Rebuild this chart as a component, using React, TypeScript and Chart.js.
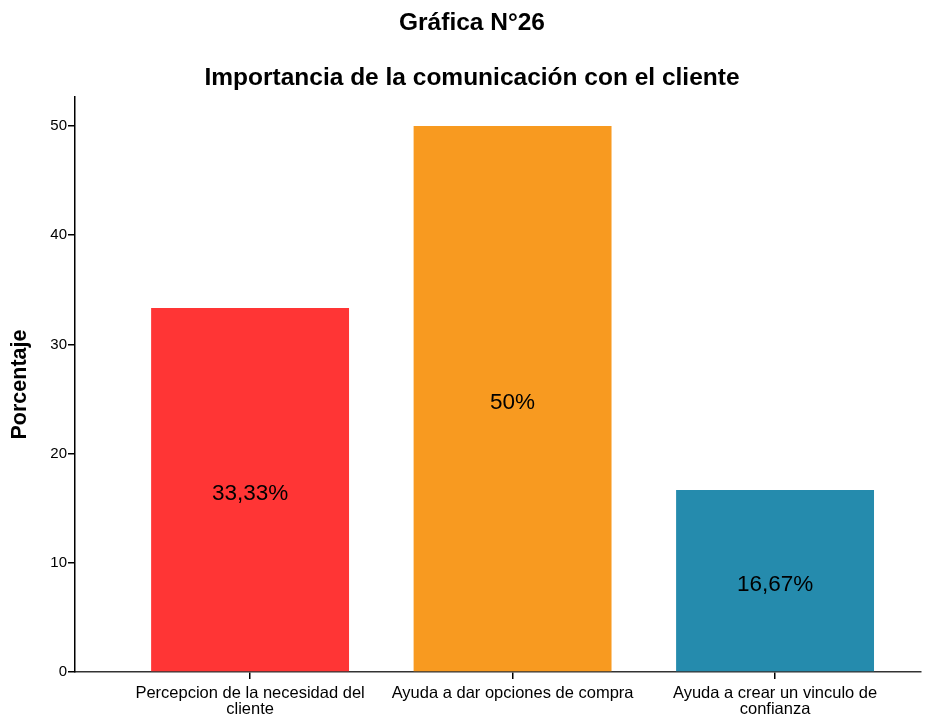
import React, { useEffect, useRef } from "react";
import { Chart, registerables } from "chart.js";

Chart.register(...registerables);

const titleText = "Gráfica N°26";
const subtitleText = "Importancia de la comunicación con el cliente";
const categories: string[][] = [
  ["Percepcion de la necesidad del", "cliente"],
  ["Ayuda a dar opciones de compra"],
  ["Ayuda a crear un vinculo de", "confianza"],
];
const percentages: number[] = [33.33, 50, 16.67];
const barLabels: string[] = ["33,33%", "50%", "16,67%"];
const barColors: string[] = ["#FF3535", "#F89A20", "#258BAD"];
const yTicks: number[] = [0, 10, 20, 30, 40, 50];

const FONT = "'Liberation Sans', Arial, Helvetica, sans-serif";

const barLabelPlugin = {
  id: "barLabels",
  afterDatasetsDraw(chart: any) {
    const meta = chart.getDatasetMeta(0);
    const ctx = chart.ctx;
    ctx.save();
    ctx.font = `22.5px ${FONT}`;
    ctx.fillStyle = "#000";
    ctx.textAlign = "center";
    ctx.textBaseline = "middle";
    meta.data.forEach((el: any, i: number) => {
      const mid = (el.y + el.base) / 2;
      ctx.fillText(barLabels[i], el.x, mid + 4);
    });
    ctx.restore();
  },
};

const titlesPlugin = {
  id: "titles",
  afterDraw(chart: any) {
    const ctx = chart.ctx;
    ctx.save();
    ctx.font = `bold 24.5px ${FONT}`;
    ctx.fillStyle = "#000";
    ctx.textAlign = "center";
    ctx.textBaseline = "middle";
    ctx.fillText(titleText, 472, 23);
    ctx.fillText(subtitleText, 472, 78);
    ctx.restore();
  },
};

export default function App() {
  const ref = useRef<HTMLCanvasElement | null>(null);
  useEffect(() => {
    if (!ref.current) return;
    const chart = new Chart(ref.current, {
      type: "bar",
      data: {
        datasets: [
          {
            data: percentages.map((v, i) => ({ x: i, y: v })),
            backgroundColor: barColors,
            borderWidth: 0,
            barPercentage: 0.754,
            categoryPercentage: 1,
          },
        ],
      },
      options: {
        animation: false,
        responsive: true,
        maintainAspectRatio: false,
        layout: { padding: { left: 0, right: 15, top: 97, bottom: 0 } },
        plugins: {
          legend: { display: false },
          tooltip: { enabled: false },
          title: { display: false },
        },
        scales: {
          x: {
            type: "linear",
            min: -0.667,
            max: 2.556,
            offset: false,
            afterBuildTicks: (scale: any) => {
              scale.ticks = categories.map((_, i) => ({ value: i }));
            },
            afterFit: (scale: any) => {
              scale.height = 45;
            },
            ticks: {
              color: "#000",
              font: { family: FONT, size: 16.5, lineHeight: 0.97 },
              padding: 6,
              maxRotation: 0,
              autoSkip: false,
              callback: (v: any) => {
                const idx = Math.round(Number(v));
                return categories[idx] ?? "";
              },
            },
            grid: {
              display: true,
              offset: false,
              drawOnChartArea: false,
              drawTicks: true,
              tickLength: 7,
              color: "#000",
              lineWidth: 1.5,
            },
            border: { display: true, color: "#333", width: 1.5 },
          },
          y: {
            min: 0,
            max: 52.66,
            afterBuildTicks: (scale: any) => {
              scale.ticks = yTicks.map((v) => ({ value: v }));
            },
            afterFit: (scale: any) => {
              scale.width = 75;
            },
            ticks: {
              color: "#000",
              font: { family: FONT, size: 15 },
              padding: 1,
              includeBounds: false,
            },
            grid: {
              display: true,
              drawOnChartArea: false,
              drawTicks: true,
              tickLength: 7,
              color: "#000",
              lineWidth: 1.5,
            },
            border: { display: true, color: "#000", width: 1.5 },
            title: {
              display: true,
              text: "Porcentaje",
              color: "#000",
              font: { family: FONT, size: 21.5, weight: "bold" },
              padding: { top: 7, bottom: 0 },
            },
          },
        },
      },
      plugins: [barLabelPlugin, titlesPlugin],
    });
    return () => chart.destroy();
  }, []);
  return (
    <div style={{ position: "fixed", left: 0, top: 0, width: 936, height: 717, background: "#fff" }}>
      <canvas ref={ref} />
    </div>
  );
}
